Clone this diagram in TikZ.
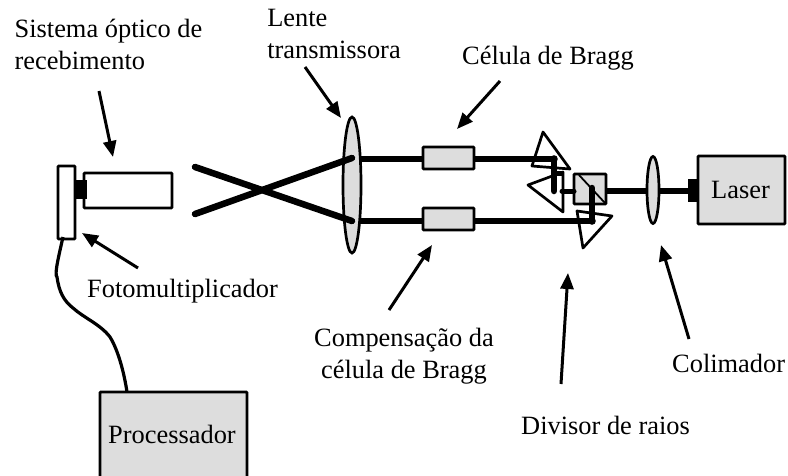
\documentclass[tikz,border=0pt]{standalone}
\usepackage{fontspec}
\setmainfont{Liberation Serif}
\usetikzlibrary{arrows.meta,shapes.geometric}
\definecolor{boxgray}{RGB}{221,221,221}
\tikzset{
  part/.style={draw=black,line width=2.7pt,rounded corners=0.8pt,inner sep=0pt},
  graybox/.style={fill=boxgray},
  lensbody/.style={draw=black,fill=boxgray,line width=2.7pt,ellipse,inner sep=0pt},
  beam/.style={line width=6.5pt,line cap=round,black},
  thinbeam/.style={line width=5pt,line cap=round,black},
  prism/.style={draw=black,line width=2.7pt,line join=round},
  plugblock/.style={fill=black,inner sep=0pt},
  pointer/.style={line width=3pt,-{Triangle[length=16pt,width=13pt]}},
  lbl/.style={font=\fontsize{26.4}{32}\selectfont,inner sep=0pt,text=black}
}
\begin{document}
\begin{tikzpicture}[x=1pt,y=-1pt]
\useasboundingbox (0,0) rectangle (788,475);
% lens and crossing beams
\node[lensbody,minimum width=18pt,minimum height=136pt] (lens) at (352,185) {};
\coordinate (xa) at (195,167);
\coordinate (xb) at (195,214);
\coordinate (xc) at (352,158);
\coordinate (xd) at (352,221);
\draw[beam] (xa) -- (xd);
\draw[beam] (xb) -- (xc);
% parallel beams
\coordinate (ub) at (361,159);
\coordinate (lb) at (361,221);
\coordinate (uc) at (554,159);
\coordinate (ud) at (554,191);
\coordinate (lc) at (592,221);
\coordinate (ld) at (592,188);
\draw[beam,line cap=butt] (ub) -- (uc);
\draw[beam,line cap=butt] (lb) -- (lc);
% cells
\node[part,graybox,minimum width=51pt,minimum height=22pt] (cell1) at (448.5,158) {};
\node[part,graybox,minimum width=51pt,minimum height=22pt] (cell2) at (448.5,219) {};
% prisms
\draw[prism] (543,132) -- (570,169) -- (532,166) -- cycle;
\draw[prism] (528,185) -- (563,172) -- (563,212) -- cycle;
% cube
\node[part,graybox,minimum width=32pt,minimum height=30pt] (cube) at (590,189) {};
\draw[black,line width=1.8pt] (579,175) -- (605,203);
\draw[prism] (577,211) -- (612,216) -- (583,248) -- cycle;
% beams over prisms
\draw[beam] (uc) -- (ud);
\draw[beam] (lc) -- (ld);
\fill (lc) circle (3.8pt);
\fill (uc) circle (3.8pt);
\draw[thinbeam] (562,191) -- (574,191);
\draw[thinbeam,line cap=butt] (554,173) -- (563,173);
% collimator and laser
\node[part,graybox,minimum width=87pt,minimum height=68pt] (laser) at (741.5,190) {};
\node[lbl,anchor=base west] (lasertext) at (711,198) {Laser};
\node[plugblock,minimum width=10pt,minimum height=23pt] (plug) at (693,190) {};
\draw[line width=6pt,black] (cube.east |- 0,191) -- (plug.west |- 0,191);
\node[lensbody,minimum width=12pt,minimum height=67pt] (coll) at (653,190) {};
% detector
\node[part,fill=white,minimum width=17pt,minimum height=73pt] (det) at (66.5,202.5) {};
\node[part,fill=white,minimum width=88pt,minimum height=35pt] (tube) at (128,190.5) {};
\node[plugblock,minimum width=12pt,minimum height=19pt] (dplug) at (81,189.5) {};
% processor
\node[part,graybox,minimum width=147pt,minimum height=90pt] (proc) at (173.5,437) {};
\node[lbl,anchor=base west] (proctext) at (108,443) {Processador};
\coordinate (c1) at (57,277);
\coordinate (c2) at (73,308);
\coordinate (c3) at (110,337);
\draw[line width=3.2pt] (63,237) .. controls (59,255) and (54,275) .. (c1) .. controls (59,292) and (64,301) .. (c2) .. controls (84,318) and (100,324) .. (c3) .. controls (118,350) and (124,372) .. (127,392);
% labels
\node[lbl,align=left] (t1) at (108.5,44) {Sistema óptico de\\recebimento};
\node[lbl,align=left] (t2) at (334,34) {Lente\\transmissora};
\node[lbl,anchor=base west] (t3) at (462,64) {Célula de Bragg};
\node[lbl,anchor=base west] (t4) at (87,297) {Fotomultiplicador};
\node[lbl,align=center] (t5) at (404,356) {Compensação da\\célula de Bragg};
\node[lbl,anchor=base west] (t6) at (521,434) {Divisor de raios};
\node[lbl,anchor=base west] (t7) at (672,372) {Colimador};
% pointers
\coordinate (p1a) at (99,91);   \coordinate (p1b) at (113,157);
\coordinate (p2a) at (305,67);  \coordinate (p2b) at (341,118);
\coordinate (p3a) at (500,81);  \coordinate (p3b) at (457,129);
\coordinate (p4a) at (138,268); \coordinate (p4b) at (82,233);
\coordinate (p5a) at (389,310); \coordinate (p5b) at (432,245);
\coordinate (p6a) at (561,384); \coordinate (p6b) at (568,273);
\coordinate (p7a) at (689,339); \coordinate (p7b) at (661,245);
\foreach \n in {1,...,7} \draw[pointer] (p\n a) -- (p\n b);
\end{tikzpicture}
\end{document}
